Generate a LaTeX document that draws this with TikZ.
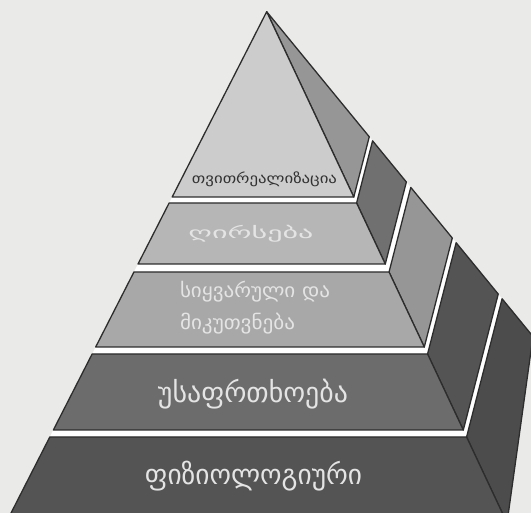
\documentclass[tikz,border=0pt]{standalone}
\usepackage{fontspec}
\usepackage{graphicx}
\newfontfamily\geo{DejaVu Sans}
\definecolor{bg}{RGB}{234,234,232}
\definecolor{edge}{RGB}{45,45,45}
\definecolor{f5}{RGB}{204,204,204}
\definecolor{s5}{RGB}{150,150,150}
\definecolor{f4}{RGB}{182,182,182}
\definecolor{s4}{RGB}{112,112,112}
\definecolor{f3}{RGB}{168,168,168}
\definecolor{s3}{RGB}{150,150,150}
\definecolor{f2}{RGB}{108,108,108}
\definecolor{s2}{RGB}{84,84,84}
\definecolor{f1}{RGB}{84,84,84}
\definecolor{s1}{RGB}{76,76,76}
\definecolor{darktxt}{RGB}{50,50,50}
\definecolor{lighttxt}{RGB}{228,228,228}
\begin{document}
\begin{tikzpicture}[x=1pt,y=-1pt,
  face/.style={draw=edge,line width=1.3pt,line join=round},
  gapstrip/.style={fill=white},
  lbl/.style={inner sep=0pt,outer sep=0pt}]
\useasboundingbox (0,0) rectangle (531,513);
\clip (0,0) rectangle (531,513);
\fill[bg] (0,0) rectangle (531,513);
\coordinate (A) at (266.7,11.7);
\foreach \n/\t in {5b/185.3,4t/191.3,4b/252.3,3t/260.3,3b/335.3,2t/342.3,2b/418.3,1t/425.3,1b/511.3}{
  \coordinate (L\n) at ({266.7-0.51*\t},{11.7+\t});
  \coordinate (R\n) at ({266.7+0.47*\t},{11.7+\t});
  \coordinate (B\n) at ({266.7+0.5535*\t},{11.7+0.675*\t});
}
\coordinate (S1) at (533,336.5);
% white top strips between tiers
\fill[gapstrip] (L5b) -- (R5b) -- (B5b) -- (B4t) -- (R4t) -- (L4t) -- cycle;
\fill[gapstrip] (L4b) -- (R4b) -- (B4b) -- (B3t) -- (R3t) -- (L3t) -- cycle;
\fill[gapstrip] (L3b) -- (R3b) -- (B3b) -- (B2t) -- (R2t) -- (L2t) -- cycle;
\fill[gapstrip] (L2b) -- (R2b) -- (B2b) -- (B1t) -- (R1t) -- (L1t) -- cycle;
% tier 1 (bottom)
\filldraw[face,fill=s1] (R1t) -- (B1t) -- (S1) -- (R1b) -- cycle;
\filldraw[face,fill=f1] (L1t) -- (R1t) -- (R1b) -- (L1b) -- cycle;
% tier 2
\filldraw[face,fill=s2] (R2t) -- (B2t) -- (B2b) -- (R2b) -- cycle;
\filldraw[face,fill=f2] (L2t) -- (R2t) -- (R2b) -- (L2b) -- cycle;
% tier 3
\filldraw[face,fill=s3] (R3t) -- (B3t) -- (B3b) -- (R3b) -- cycle;
\filldraw[face,fill=f3] (L3t) -- (R3t) -- (R3b) -- (L3b) -- cycle;
% tier 4
\filldraw[face,fill=s4] (R4t) -- (B4t) -- (B4b) -- (R4b) -- cycle;
\filldraw[face,fill=f4] (L4t) -- (R4t) -- (R4b) -- (L4b) -- cycle;
% tier 5 (top)
\filldraw[face,fill=s5] (A) -- (R5b) -- (B5b) -- cycle;
\filldraw[face,fill=f5] (A) -- (L5b) -- (R5b) -- cycle;
% labels
\node[lbl,text=darktxt] (t5) at (264.5,179.5) {\resizebox*{145pt}{15pt}{\geo თვითრეალიზაცია}};
\node[lbl,text=lighttxt] (t4) at (251,233.5) {\resizebox*{125pt}{17pt}{\geo ღირსება}};
\node[lbl,text=lighttxt,anchor=west] (t3a) at (180,291.5) {\resizebox*{150pt}{21pt}{\geo სიყვარული და}};
\node[lbl,text=lighttxt,anchor=west] (t3b) at (180,323.5) {\resizebox*{115pt}{21pt}{\geo მიკუთვნება}};
\node[lbl,text=lighttxt] (t2) at (253,394) {\resizebox*{190pt}{30pt}{\geo უსაფრთხოება}};
\node[lbl,text=lighttxt] (t1) at (253.5,476) {\resizebox*{217pt}{30pt}{\geo ფიზიოლოგიური}};
\end{tikzpicture}
\end{document}
